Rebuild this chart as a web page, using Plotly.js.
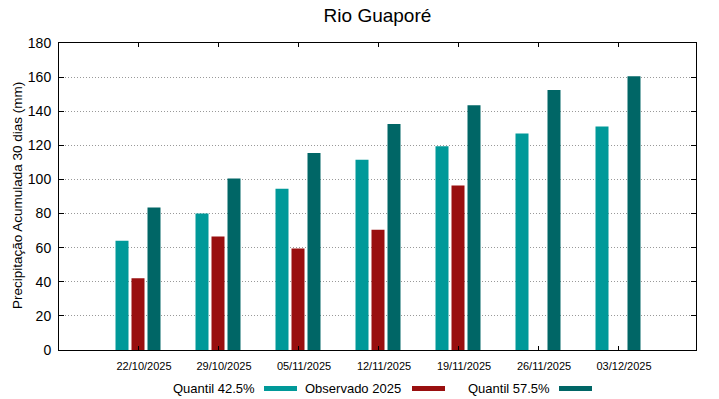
<!DOCTYPE html>
<html>
<head>
<meta charset="utf-8">
<script src="https://cdn.plot.ly/plotly-3.0.1.min.js"></script>
<style>html,body{margin:0;padding:0;background:#fff;}#chart{width:719px;height:399px;}</style>
</head>
<body>
<div id="chart"></div>
<script>
const categories = ["22/10/2025","29/10/2025","05/11/2025","12/11/2025","19/11/2025","26/11/2025","03/12/2025"];
const quantil425 = [64, 80, 94.5, 111.5, 119.5, 127, 131];
const observado2025 = [42, 66.5, 59.5, 70.5, 96.5, null, null];
const quantil575 = [83.5, 100.5, 115.5, 132.5, 143.5, 152.5, 160.5];
const seriesNames = ["Quantil 42.5%", "Observado 2025", "Quantil 57.5%"];
const seriesColors = ["#009999", "#990f0f", "#006666"];
const yTicks = [0,20,40,60,80,100,120,140,160,180];
const yTitle = 'Precipitação Acumulada 30 dias (mm)';

const idx = categories.map((_, i) => i);
const traces = [quantil425, observado2025, quantil575].map((vals, k) => ({
  type: 'bar', x: idx, y: vals, name: seriesNames[k],
  marker: {color: seriesColors[k], line: {width: 0}},
  showlegend: false, hoverinfo: 'x+y'
}));

// legend drawn gnuplot-style: text then swatch
const legText = [ {x: 257, name: seriesNames[0]}, {x: 403, name: seriesNames[1]}, {x: 552, name: seriesNames[2]} ];
const swX = [[264,297],[412,445],[559,592]];
const W = 719, H = 399;
const annotations = legText.map((d) => ({
  xref: 'paper', yref: 'paper', x: (d.x - 59) / (696 - 59), y: (350 - 388) / (350 - 43),
  xanchor: 'right', yanchor: 'middle', text: d.name, showarrow: false,
  font: {family: 'Liberation Sans, Arial, sans-serif', size: 13, color: '#000'}
}));
annotations.push({
  xref: 'paper', yref: 'paper', x: (17 - 59) / 637, y: (350 - 196) / 307,
  xanchor: 'center', yanchor: 'middle', textangle: -90, text: yTitle, showarrow: false,
  font: {family: 'Liberation Sans, Arial, sans-serif', size: 13.5, color: '#000'}
});
const shapes = swX.map((s, k) => ({
  type: 'rect', xref: 'paper', yref: 'paper',
  x0: (s[0] - 59) / 637, x1: (s[1] - 59) / 637,
  y0: (350 - 391) / 307, y1: (350 - 386) / 307,
  fillcolor: seriesColors[k], line: {width: 0}
}));

const layout = {
  width: W, height: H,
  margin: {l: 59, r: 23, t: 43, b: 49},
  paper_bgcolor: '#fff', plot_bgcolor: '#fff',
  font: {family: 'Liberation Sans, Arial, sans-serif', color: '#000'},
  title: {text: 'Rio Guaporé', x: 0.525, xanchor: 'center', y: 0.962, yanchor: 'middle',
          font: {size: 19, color: '#000', family: 'Liberation Sans, Arial, sans-serif'}},
  barmode: 'group', bargap: 0.4, bargroupgap: 0.1875,
  xaxis: {
    range: [-0.9875, 6.975], tickvals: idx, ticktext: categories,
    ticks: 'inside', ticklen: 4, tickcolor: '#000', mirror: 'ticks',
    showline: true, linecolor: '#000', linewidth: 1, showgrid: false, zeroline: false,
    tickfont: {size: 11, color: '#000'}, ticklabelshift: 6, ticklabelstandoff: 6
  },
  yaxis: {
    range: [0, 180], tickvals: yTicks, ticks: 'inside', ticklen: 5, tickcolor: '#000',
    mirror: 'ticks', showline: true, linecolor: '#000', linewidth: 1,
    showgrid: true, gridcolor: '#999999', griddash: '1px,2px', gridwidth: 1, zeroline: false,
    tickfont: {size: 14, color: '#000'}, ticklabelstandoff: 4
  },
  annotations: annotations, shapes: shapes
};

Plotly.newPlot('chart', traces, layout, {displayModeBar: false, staticPlot: true});
</script>
</body>
</html>
